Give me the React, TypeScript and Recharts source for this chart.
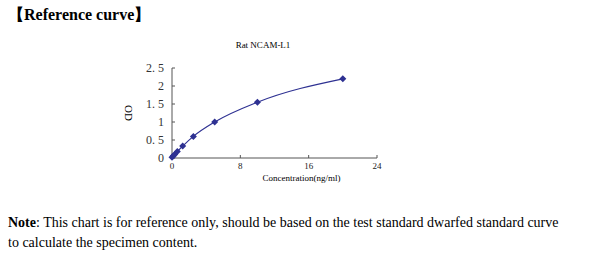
import React from "react";
import { LineChart, Line, XAxis, YAxis, Label } from "recharts";

const concentrations = [0, 0.156, 0.312, 0.625, 1.25, 2.5, 5, 10, 20];
const odValues = [0.02, 0.06, 0.1, 0.18, 0.33, 0.6, 1.0, 1.55, 2.2];
const xTicks = [0, 8, 16, 24];
const yTicks = [0, 0.5, 1, 1.5, 2, 2.5];
const yTickLabels = ["0", "0. 5", "1", "1. 5", "2", "2. 5"];

const data = concentrations.map((c, i) => ({ conc: c, od: odValues[i] }));

const serif = '"Liberation Serif", "Times New Roman", serif';
const lineColor = "#2e3192";

function Diamond(props: any) {
  const { cx, cy } = props;
  if (cx == null || cy == null) return null;
  const r = 3.5;
  return (
    <polygon
      points={`${cx},${cy - r} ${cx + r},${cy} ${cx},${cy + r} ${cx - r},${cy}`}
      fill={lineColor}
    />
  );
}

export default function App() {
  return (
    <div
      style={{
        position: "absolute",
        left: 0,
        top: 0,
        width: 600,
        height: 277,
        background: "#fff",
        fontFamily: serif,
        color: "#000",
      }}
    >
      <div style={{ position: "absolute", left: 8, top: 5, fontSize: 16, fontWeight: "bold" }}>
        【Reference curve】
      </div>
      <div style={{ position: "absolute", left: 0, top: 0 }}>
        <LineChart
          width={600}
          height={277}
          data={data}
          margin={{ top: 68, right: 223, bottom: 89, left: 132 }}
        >
          <text x={263} y={48} textAnchor="middle" fontSize={9} fontFamily={serif} fill="#000">
            Rat NCAM-L1
          </text>
          <XAxis
            dataKey="conc"
            type="number"
            domain={[0, 24]}
            ticks={xTicks}
            interval={0}
            height={30}
            stroke="#555"
            tickSize={-3}
            tickMargin={8}
            tick={{ fontSize: 9, fontFamily: serif, fill: "#222" }}
          >
            <Label
              value="Concentration(ng/ml)"
              position="insideTop"
              offset={17}
              dx={27}
              style={{ fontSize: 9, fontFamily: serif, fill: "#000" }}
            />
          </XAxis>
          <YAxis
            type="number"
            domain={[0, 2.5]}
            ticks={yTicks}
            interval={0}
            width={40}
            stroke="#555"
            tickSize={-3}
            tickMargin={11}
            tickFormatter={(v: number) => yTickLabels[yTicks.indexOf(v)] ?? String(v)}
            tick={{ fontSize: 12, fontFamily: serif, fill: "#333" }}
          >
            <Label
              value="OD"
              angle={90}
              position="insideLeft"
              offset={-3}
              style={{ fontSize: 11, fontFamily: serif, fill: "#000", textAnchor: "middle" }}
            />
          </YAxis>
          <Line
            type="monotone"
            dataKey="od"
            stroke={lineColor}
            strokeWidth={1.2}
            dot={<Diamond />}
            isAnimationActive={false}
          />
        </LineChart>
      </div>
      <div style={{ position: "absolute", left: 8, top: 213, fontSize: 14, lineHeight: "20px" }}>
        <b>Note</b>: This chart is for reference only, should be based on the test standard dwarfed standard curve
        <br />
        to calculate the specimen content.
      </div>
    </div>
  );
}
